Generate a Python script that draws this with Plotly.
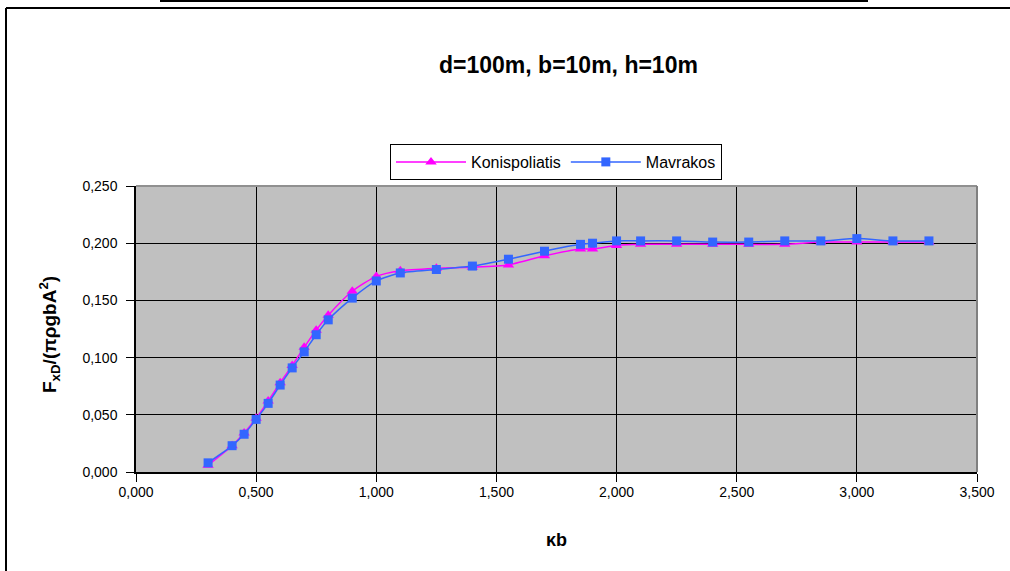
import plotly.graph_objects as go

kb = [0.30, 0.40, 0.45, 0.50, 0.55, 0.60, 0.65, 0.70, 0.75, 0.80, 0.90, 1.00, 1.10, 1.25,
      1.40, 1.55, 1.70, 1.85, 1.90, 2.00, 2.10, 2.25, 2.40, 2.55, 2.70, 2.85, 3.00, 3.15, 3.30]
konispoliatis = [0.006, 0.023, 0.034, 0.047, 0.062, 0.078, 0.093, 0.109, 0.124, 0.137, 0.158,
                 0.171, 0.176, 0.178, 0.179, 0.181, 0.189, 0.195, 0.195, 0.198, 0.199, 0.199,
                 0.199, 0.199, 0.199, 0.201, 0.201, 0.201, 0.201]
mavrakos = [0.008, 0.023, 0.033, 0.046, 0.060, 0.076, 0.091, 0.105, 0.120, 0.133, 0.152,
            0.167, 0.174, 0.177, 0.180, 0.186, 0.193, 0.199, 0.200, 0.202, 0.202, 0.202,
            0.201, 0.201, 0.202, 0.202, 0.204, 0.202, 0.202]
title_text = "d=100m, b=10m, h=10m"
x_title = "κb"
y_title = "F<sub>xD</sub>/(πρgbA<sup>2</sup>)"

FONT = "Arial, 'Liberation Sans', sans-serif"
W, H = 1010, 571
L, R, T, B = 136, 977, 186, 472  # plot area in px


def px(x):
    return (x - L) / (R - L)


def py(y):
    return (B - y) / (B - T)


fig = go.Figure()
fig.add_trace(go.Scatter(
    x=kb, y=konispoliatis, name="Konispoliatis", mode="lines+markers",
    line=dict(color="#FF00FF", width=1.5, shape="spline", smoothing=0.6),
    marker=dict(symbol="triangle-up", size=10, color="#FF00FF")))
fig.add_trace(go.Scatter(
    x=kb, y=mavrakos, name="Mavrakos", mode="lines+markers",
    line=dict(color="#3366FF", width=1.5, shape="spline", smoothing=0.6),
    marker=dict(symbol="square", size=9, color="#3366FF")))

fig.update_layout(
    width=W, height=H,
    margin=dict(l=L, r=W - R, t=T, b=H - B, pad=0),
    paper_bgcolor="white", plot_bgcolor="#C0C0C0",
    separators=",.",
    font=dict(family=FONT, size=14, color="black"),
    showlegend=True,
    legend=dict(orientation="h", x=px(556), y=py(162), xanchor="center", yanchor="middle",
                bordercolor="black", borderwidth=1, bgcolor="white",
                font=dict(family=FONT, size=16), itemwidth=70, tracegroupgap=0),
    xaxis=dict(range=[0, 3.5], dtick=0.5, tick0=0, tickformat=".3f",
               showgrid=True, gridcolor="black", gridwidth=1,
               showline=True, linecolor="black", linewidth=1.5,
               ticks="outside", ticklen=8, tickcolor="black", zeroline=False,
               ticklabelstandoff=-2,
               tickfont=dict(family=FONT, size=14)),
    yaxis=dict(range=[0, 0.25], dtick=0.05, tick0=0, tickformat=".3f",
               showgrid=True, gridcolor="black", gridwidth=1,
               showline=True, linecolor="black", linewidth=1.5,
               ticks="outside", ticklen=8, tickcolor="black", zeroline=False,
               ticklabelstandoff=6,
               tickfont=dict(family=FONT, size=14)),
    shapes=[
        # plot area top/right border
        dict(type="line", xref="paper", yref="paper", x0=0, x1=1, y0=1, y1=1,
             line=dict(color="#909090", width=2)),
        dict(type="line", xref="paper", yref="paper", x0=1, x1=1, y0=0, y1=1,
             line=dict(color="#808080", width=2)),
        # outer chart frame
        dict(type="line", xref="paper", yref="paper", x0=px(6), x1=px(1015), y0=py(8), y1=py(8),
             line=dict(color="black", width=2)),
        dict(type="line", xref="paper", yref="paper", x0=px(6), x1=px(6), y0=py(8), y1=py(580),
             line=dict(color="black", width=2)),
        # top page line
        dict(type="line", xref="paper", yref="paper", x0=px(160), x1=px(868), y0=py(1), y1=py(1),
             line=dict(color="black", width=2)),
    ],
    annotations=[
        dict(text="<b>" + title_text + "</b>", x=px(568), y=py(65), xref="paper", yref="paper",
             showarrow=False, xanchor="center", yanchor="middle",
             font=dict(family=FONT, size=23, color="black")),
        dict(text="<b>" + x_title + "</b>", x=px(556), y=py(540), xref="paper", yref="paper",
             showarrow=False, xanchor="center", yanchor="middle",
             font=dict(family=FONT, size=18, color="black")),
        dict(text="<b>" + y_title + "</b>", x=px(49), y=py(335), xref="paper", yref="paper",
             showarrow=False, xanchor="center", yanchor="middle", textangle=-90,
             font=dict(family=FONT, size=19, color="black")),
    ],
)

fig.write_html("out.html")
